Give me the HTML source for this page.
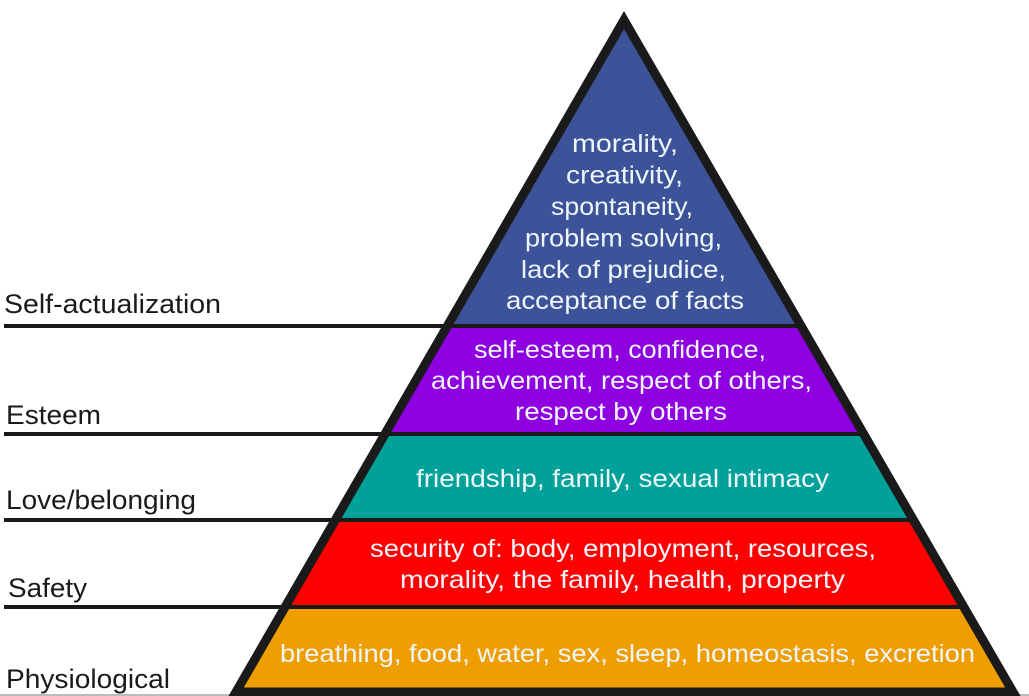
<!DOCTYPE html>
<html><head><meta charset="utf-8"><style>
html,body{margin:0;padding:0;background:#fff;}
svg{display:block;}
text{font-family:"Liberation Sans","DejaVu Sans",sans-serif;}
.w{fill:#eef6fb;font-size:25px;}
.k{fill:#1a1a1a;font-size:27px;}
</style></head><body>
<svg width="1029" height="696" viewBox="0 0 1029 696" xmlns="http://www.w3.org/2000/svg">
<defs><clipPath id="c"><polygon points="624,20 236,692 1013,692"/></clipPath></defs>
<g clip-path="url(#c)">
<rect x="0" y="0" width="1029" height="326" fill="#3d5399"/>
<rect x="0" y="326" width="1029" height="108" fill="#8e00e0"/>
<rect x="0" y="434" width="1029" height="86" fill="#00a198"/>
<rect x="0" y="520" width="1029" height="87" fill="#ff0000"/>
<rect x="0" y="607" width="1029" height="89" fill="#ef9e00"/>
</g>
<g stroke="#1a1a1a" stroke-width="4">
<line x1="4" y1="326" x2="800" y2="326"/>
<line x1="4" y1="434" x2="862" y2="434"/>
<line x1="4" y1="520" x2="912" y2="520"/>
<line x1="4" y1="607" x2="962" y2="607"/>
</g>
<line x1="0" y1="695" x2="1029" y2="695" stroke="#bbb" stroke-width="2"/>
<polygon points="624,20 236,692 1013,692" fill="none" stroke="#1a1a1a" stroke-width="9" stroke-linejoin="miter"/>
<g class="w" text-anchor="middle">
<text x="625" y="152" textLength="106" lengthAdjust="spacingAndGlyphs">morality,</text>
<text x="624.5" y="183.5" textLength="117" lengthAdjust="spacingAndGlyphs">creativity,</text>
<text x="622" y="215" textLength="142" lengthAdjust="spacingAndGlyphs">spontaneity,</text>
<text x="623.5" y="246.5" textLength="197" lengthAdjust="spacingAndGlyphs">problem solving,</text>
<text x="623.5" y="278" textLength="205" lengthAdjust="spacingAndGlyphs">lack of prejudice,</text>
<text x="625" y="309" textLength="238" lengthAdjust="spacingAndGlyphs">acceptance of facts</text>
<text x="620" y="358" textLength="292" lengthAdjust="spacingAndGlyphs">self-esteem, confidence,</text>
<text x="621.5" y="389" textLength="381" lengthAdjust="spacingAndGlyphs">achievement, respect of others,</text>
<text x="621" y="420" textLength="212" lengthAdjust="spacingAndGlyphs">respect by others</text>
<text x="622.5" y="487" textLength="413" lengthAdjust="spacingAndGlyphs">friendship, family, sexual intimacy</text>
<text x="623" y="557" textLength="506" lengthAdjust="spacingAndGlyphs">security of: body, employment, resources,</text>
<text x="622.5" y="588" textLength="445" lengthAdjust="spacingAndGlyphs">morality, the family, health, property</text>
<text x="627.5" y="662" textLength="695" lengthAdjust="spacingAndGlyphs">breathing, food, water, sex, sleep, homeostasis, excretion</text>
</g>
<g class="k">
<text x="4" y="313" textLength="217" lengthAdjust="spacingAndGlyphs">Self-actualization</text>
<text x="6" y="424" textLength="95" lengthAdjust="spacingAndGlyphs">Esteem</text>
<text x="6" y="509" textLength="190" lengthAdjust="spacingAndGlyphs">Love/belonging</text>
<text x="8" y="597" textLength="79" lengthAdjust="spacingAndGlyphs">Safety</text>
<text x="6" y="688" textLength="164" lengthAdjust="spacingAndGlyphs">Physiological</text>
</g>
</svg>
</body></html>
